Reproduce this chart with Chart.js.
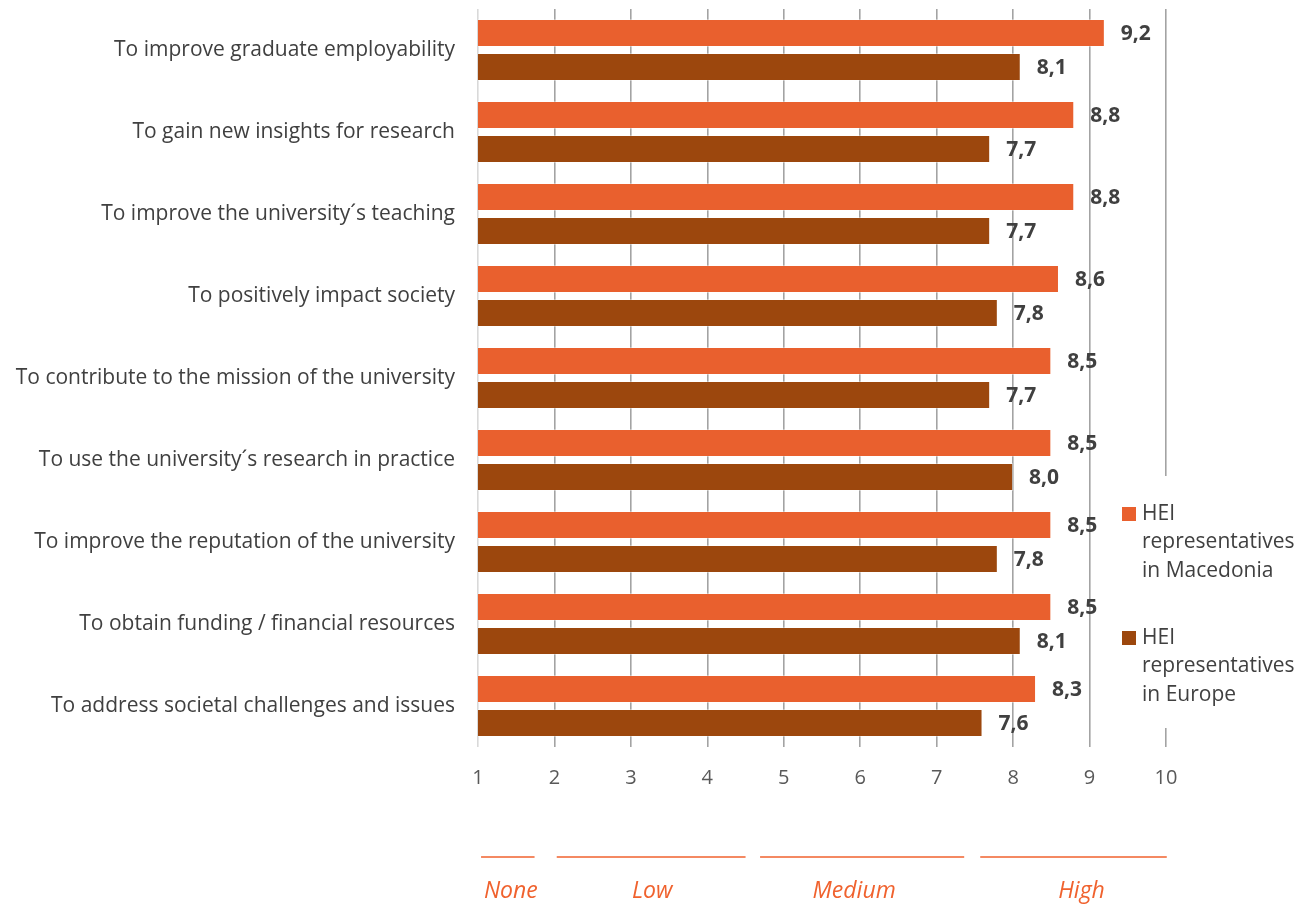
<!DOCTYPE html>
<html>
<head>
<meta charset="utf-8">
<script src="https://cdn.jsdelivr.net/npm/chart.js@4/dist/chart.umd.min.js"></script>
<style>
  html, body { margin: 0; padding: 0; background: #ffffff; }
  #wrap { width: 1296px; height: 904px; }
</style>
</head>
<body>
<div id="wrap"><canvas id="chart" width="1296" height="904"></canvas></div>
<script>
// Motives for cooperation, mean score on a 1-10 scale
const categories = [
  "To improve graduate employability",
  "To gain new insights for research",
  "To improve the university\u00B4s teaching",
  "To positively impact society",
  "To contribute to the mission of the university",
  "To use the university\u00B4s research in practice",
  "To improve the reputation of the university",
  "To obtain funding / financial resources",
  "To address societal challenges and issues"
];
const macedonia = [9.2, 8.8, 8.8, 8.6, 8.5, 8.5, 8.5, 8.5, 8.3];
const europe = [8.1, 7.7, 7.7, 7.8, 7.7, 8.0, 7.8, 8.1, 7.6];
const seriesNames = ["HEI representatives in Macedonia", "HEI representatives in Europe"];
const tickValues = [1, 2, 3, 4, 5, 6, 7, 8, 9, 10];
const levelNames = ["None", "Low", "Medium", "High"];

const ORANGE = "#E9602E";
const BROWN = "#9C470D";
const TEXT = "#404040";
const ACCENT = "#F0622E";
const FONT = "'Open Sans', 'Liberation Sans', sans-serif";

// value labels printed just past the end of each bar
const valueLabels = {
  id: "valueLabels",
  afterDatasetsDraw(chart) {
    const ctx = chart.ctx;
    ctx.save();
    ctx.font = "bold 21px " + FONT;
    ctx.fillStyle = TEXT;
    ctx.textAlign = "left";
    ctx.textBaseline = "middle";
    chart.data.datasets.forEach((ds, di) => {
      const meta = chart.getDatasetMeta(di);
      meta.data.forEach((bar, i) => {
        const txt = ds.data[i].toFixed(1).replace(".", ",");
        ctx.fillText(txt, bar.x + 16, bar.y + 1);
      });
    });
    ctx.restore();
  }
};

// legend on the right, with wrapped series names
const sideLegend = {
  id: "sideLegend",
  afterDraw(chart, args, opts) {
    const ctx = chart.ctx;
    ctx.save();
    ctx.fillStyle = "#ffffff";
    ctx.fillRect(opts.boxLeft, opts.boxTop, opts.boxWidth, opts.boxHeight);
    ctx.font = "21px " + FONT;
    ctx.textAlign = "left";
    ctx.textBaseline = "middle";
    let y = opts.firstY;
    chart.data.datasets.forEach((ds) => {
      const words = ds.label.split(" ");
      const lines = [];
      let cur = "";
      words.forEach((w) => {
        const test = cur ? cur + " " + w : w;
        if (cur && ctx.measureText(test).width > opts.maxTextWidth) {
          lines.push(cur);
          cur = w;
        } else {
          cur = test;
        }
      });
      if (cur) lines.push(cur);
      ctx.fillStyle = ds.backgroundColor;
      ctx.fillRect(opts.swatchX, y - 7, 14, 14);
      ctx.fillStyle = TEXT;
      lines.forEach((ln, k) => {
        ctx.fillText(ln, opts.textX, y + k * opts.lineGap);
      });
      y += opts.entryGap;
    });
    ctx.restore();
  }
};

// rating bands drawn under the value axis
const ratingBands = {
  id: "ratingBands",
  afterDraw(chart, args, opts) {
    const ctx = chart.ctx;
    const xs = chart.scales.x;
    ctx.save();
    ctx.strokeStyle = ACCENT;
    ctx.fillStyle = ACCENT;
    ctx.lineWidth = 1.5;
    ctx.font = "italic 23px " + FONT;
    ctx.textAlign = "center";
    ctx.textBaseline = "alphabetic";
    levelNames.forEach((name, i) => {
      const [a, b] = opts.spans[i];
      const x1 = xs.getPixelForValue(a);
      const x2 = xs.getPixelForValue(b);
      ctx.beginPath();
      ctx.moveTo(x1, opts.lineY);
      ctx.lineTo(x2, opts.lineY);
      ctx.stroke();
      ctx.fillText(name, (x1 + x2) / 2 + opts.textShift[i], opts.textY);
    });
    ctx.restore();
  }
};

new Chart(document.getElementById("chart"), {
  type: "bar",
  data: {
    labels: categories,
    datasets: [
      { label: seriesNames[0], data: macedonia, backgroundColor: ORANGE,
        borderColor: "rgba(255,255,255,0.35)", borderWidth: 1, borderSkipped: false },
      { label: seriesNames[1], data: europe, backgroundColor: BROWN,
        borderColor: "rgba(255,255,255,0.35)", borderWidth: 1, borderSkipped: false }
    ]
  },
  options: {
    indexAxis: "y",
    responsive: false,
    animation: false,
    devicePixelRatio: 1,
    layout: { padding: { top: 9, right: 130, bottom: 0, left: 0 } },
    datasets: { bar: { categoryPercentage: 0.83, barPercentage: 0.82 } },
    scales: {
      x: {
        min: 1,
        max: 10,
        afterBuildTicks(scale) { scale.ticks = tickValues.map((v) => ({ value: v })); },
        afterFit(scale) {
          scale.height = 157;
          scale.paddingLeft = 0;
          scale.paddingRight = 0;
        },
        border: { display: false },
        grid: {
          drawTicks: false,
          lineWidth: 1.6,
          color: (c) => (c.tick && c.tick.value === 1 ? "#d9d9d9" : "#a3a3a3")
        },
        ticks: {
          padding: 19,
          color: "#595959",
          font: { family: FONT, size: 20 },
          callback: (v) => String(v)
        }
      },
      y: {
        afterFit(scale) {
          scale.width = 478;
          scale.paddingTop = 0;
          scale.paddingBottom = 0;
        },
        border: { display: false },
        grid: { display: false, drawTicks: false },
        ticks: {
          padding: 23,
          color: TEXT,
          font: { family: FONT, size: 21 }
        }
      }
    },
    plugins: {
      legend: { display: false },
      tooltip: { enabled: false },
      sideLegend: {
        boxLeft: 1110, boxTop: 476, boxWidth: 186, boxHeight: 252,
        swatchX: 1122, textX: 1142, firstY: 514, lineGap: 28.5, entryGap: 124,
        maxTextWidth: 156
      },
      ratingBands: {
        spans: [[1.04, 1.74], [2.03, 4.5], [4.69, 7.36], [7.57, 10.01]],
        textShift: [3, 1, -8, 8],
        lineY: 857,
        textY: 898
      }
    }
  },
  plugins: [valueLabels, sideLegend, ratingBands]
});
</script>
</body>
</html>
